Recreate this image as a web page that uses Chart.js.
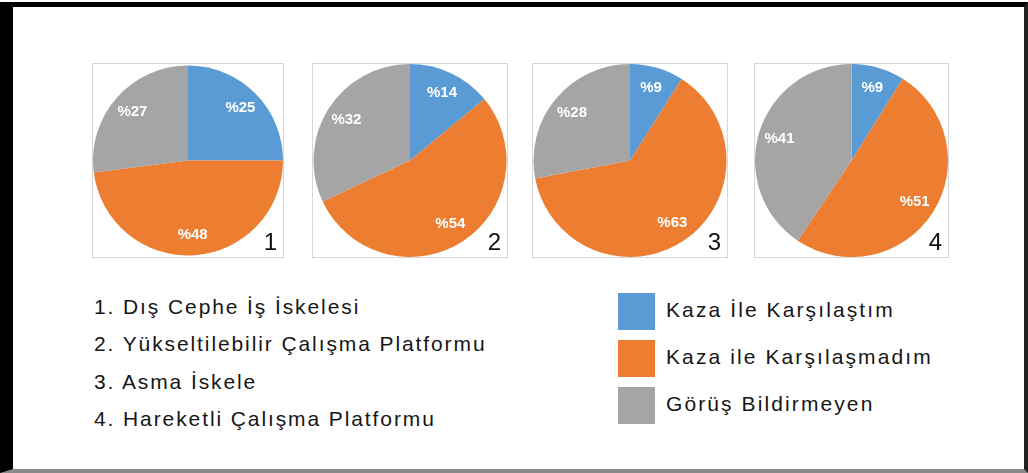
<!DOCTYPE html>
<html>
<head>
<meta charset="utf-8">
<script src="https://cdn.jsdelivr.net/npm/chart.js@4"></script>
<style>
  html, body { margin: 0; padding: 0; background: #fff; }
  body { width: 1028px; height: 473px; position: relative; overflow: hidden; font-family: "Liberation Sans", Arial, sans-serif; }
  .frame { position: absolute; left: 0; top: 2px; width: 1028px; height: 471px; box-sizing: border-box;
           border-left: 13px solid #000; border-top: 5px solid #000; border-right: 4px solid #222; border-bottom: 4px solid #8a8a8a; }
  .box { position: absolute; top: 63px; height: 195px; box-sizing: border-box; border: 1px solid #d6d6d6; background: #fff; }
  .box canvas { position: absolute; left: 0; top: 0; }
  .names { position: absolute; left: 94px; top: 288px; font-size: 21px; line-height: 37.3px; letter-spacing: 1.9px; color: #161616; white-space: nowrap; }
  .legend { position: absolute; left: 618px; top: 293px; }
  .legend .row { position: relative; height: 47px; }
  .legend .sw { position: absolute; left: 0; top: 0; width: 37px; height: 37px; }
  .legend .tx { position: absolute; left: 48px; top: 2px; font-size: 21px; line-height: 30px; letter-spacing: 2.1px; color: #161616; white-space: nowrap; }
</style>
</head>
<body>
<div class="frame"></div>
<div id="boxes"></div>
<div class="names" id="names"></div>
<div class="legend" id="legend"></div>
<script>
// seri adlari ve renkleri
const seriesLabels = ['Kaza İle Karşılaştım', 'Kaza ile Karşılaşmadım', 'Görüş Bildirmeyen'];
const seriesColors = ['#5B9BD5', '#ED7D31', '#A5A5A5'];

// platform adlari (grafik numaralari 1-4)
const platformNames = ['Dış Cephe İş İskelesi', 'Yükseltilebilir Çalışma Platformu', 'Asma İskele', 'Hareketli Çalışma Platformu'];

// yuzdeler, her platform icin
const kazaIle = [25, 14, 9, 9];
const kazaYok = [48, 54, 63, 51];
const gorusYok = [27, 32, 28, 41];

// kutu yerlesimi
const boxLeft = [92, 312, 532, 754];
const boxWidth = [192, 196, 196, 195];

// dilim etiketleri + kose numarasi
const pieLabels = {
    id: 'pieLabels',
    afterDatasetsDraw(chart, args, opts) {
        const ctx = chart.ctx;
        const meta = chart.getDatasetMeta(0);
        ctx.save();
        ctx.font = 'bold 15px "Liberation Sans", Arial, sans-serif';
        ctx.fillStyle = '#fff';
        ctx.textAlign = 'center';
        ctx.textBaseline = 'middle';
        meta.data.forEach((arc, i) => {
            const p = arc.getProps(['x', 'y', 'startAngle', 'endAngle', 'outerRadius'], true);
            const mid = (p.startAngle + p.endAngle) / 2;
            const r = p.outerRadius * 0.78;
            ctx.fillText('%' + chart.data.datasets[0].data[i], p.x + Math.cos(mid) * r, p.y + Math.sin(mid) * r);
        });
        // sag alt kosedeki numara
        ctx.font = '24px "Liberation Sans", Arial, sans-serif';
        ctx.fillStyle = '#111';
        ctx.textAlign = 'right';
        ctx.textBaseline = 'alphabetic';
        ctx.fillText(opts.num, chart.width - 6, chart.height - 7);
        ctx.restore();
    }
};

const boxesEl = document.getElementById('boxes');
platformNames.forEach((name, i) => {
    const box = document.createElement('div');
    box.className = 'box';
    box.style.left = boxLeft[i] + 'px';
    box.style.width = boxWidth[i] + 'px';
    const cv = document.createElement('canvas');
    cv.width = boxWidth[i] - 2;
    cv.height = 193;
    box.appendChild(cv);
    boxesEl.appendChild(box);

    new Chart(cv.getContext('2d'), {
        type: 'pie',
        data: {
            labels: seriesLabels,
            datasets: [{
                data: [kazaIle[i], kazaYok[i], gorusYok[i]],
                backgroundColor: seriesColors,
                borderWidth: 0
            }]
        },
        options: {
            responsive: false,
            animation: false,
            devicePixelRatio: 1,
            layout: { padding: 0 },
            plugins: {
                legend: { display: false },
                tooltip: { enabled: false },
                pieLabels: { num: String(i + 1) }
            }
        },
        plugins: [pieLabels]
    });
});

// alttaki numarali liste
document.getElementById('names').innerHTML =
    platformNames.map((n, i) => `<div>${i + 1}. ${n}</div>`).join('');

// renk aciklamasi
document.getElementById('legend').innerHTML =
    seriesLabels.map((s, i) => `<div class="row"><div class="sw" style="background:${seriesColors[i]}"></div><div class="tx">${s}</div></div>`).join('');
</script>
</body>
</html>
